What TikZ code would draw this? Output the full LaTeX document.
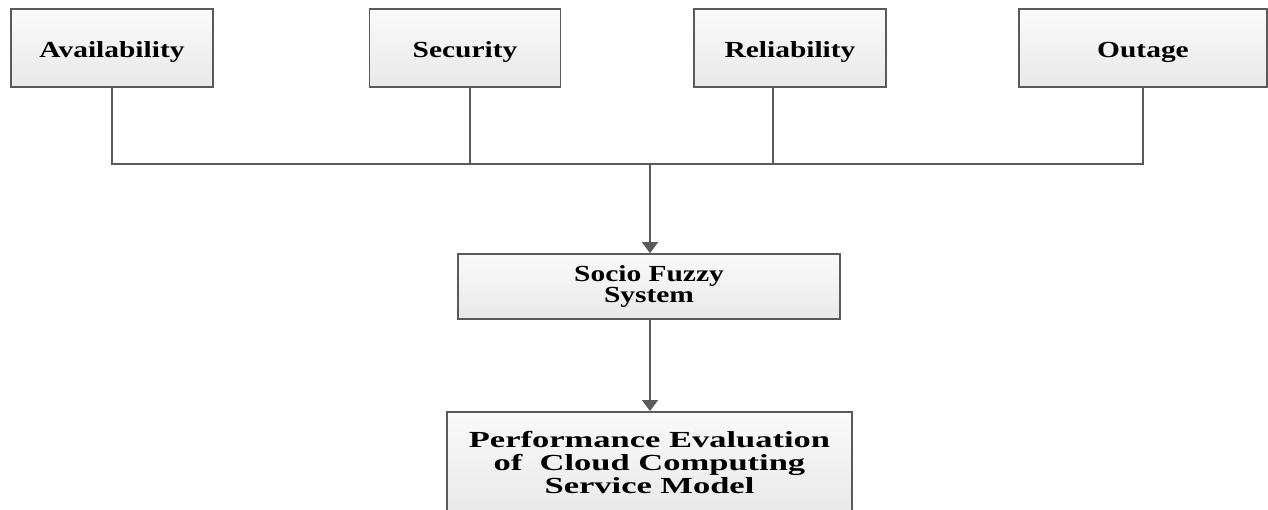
\documentclass[tikz,border=0pt]{standalone}
\usepackage{fontspec}
\setmainfont{Liberation Serif}
\newfontfamily\boxfont[FakeStretch=1.28]{Liberation Serif}
\newfontfamily\widefont[FakeStretch=1.5]{Liberation Serif}
\usepackage{tikz}
\usetikzlibrary{arrows.meta, positioning}
\definecolor{edge}{HTML}{5A5A5A}
\definecolor{boxtop}{HTML}{FAFAFA}
\definecolor{boxbot}{HTML}{E9E9E9}

\tikzset{
  block/.style={draw=edge, line width=1.6pt, top color=boxtop, bottom color=boxbot,
    minimum width=#1, inner sep=0pt, align=center,
    font=\boxfont\bfseries\fontsize{23}{20}\selectfont},
  block/.default=192pt,
  factor/.style={block=#1, minimum height=78pt, text height=20pt, text depth=0pt},
  factor/.default=192pt,
  wire/.style={draw=edge, line width=1.6pt},
  feed/.style={wire, -{Triangle[width=16pt, length=11pt]}}
}

\begin{document}
\begin{tikzpicture}[x=1pt, y=-1pt]
  \useasboundingbox (0,0) rectangle (1268,510);
  \fill[white] (0,0) rectangle (1268,510);

  % Einflussgroessen
  \node[factor=202pt] (avail) at (112,48) {Availability};
  \node[factor=191pt] (secur) at (465,48) {Security};
  \node[factor=192pt] (relia) at (790,48) {Reliability};
  \node[factor=248pt] (outage) at (1143,48) {Outage};

  % Fuzzy-System und Ergebnis
  \node[block=382pt, minimum height=65pt] (socio) at (649,286.5) {Socio Fuzzy\\System};
  \node[block=405pt, anchor=north, inner ysep=19.5pt,
    font=\widefont\bfseries\fontsize{23}{23}\selectfont]
    (perf) at (649.5,411) {Performance Evaluation\\of\ \ Cloud Computing\\Service Model};

  % Sammelleitung
  \coordinate (busL) at (112,164);
  \coordinate (busR) at (1143,164);
  \coordinate (busM) at (650,164);
  \draw[wire] (avail.south) -- (busL) -- (busR) -- (outage.south);
  \draw[wire] ([xshift=5pt]secur.south) -- ([xshift=5pt]secur.south |- busM);
  \draw[wire] ([xshift=-17pt]relia.south) -- ([xshift=-17pt]relia.south |- busM);

  \draw[feed] (busM) -- (busM |- socio.north);
  \draw[feed] ([xshift=1pt]socio.south) -- ([xshift=1pt]socio.south |- perf.north);
\end{tikzpicture}
\end{document}
